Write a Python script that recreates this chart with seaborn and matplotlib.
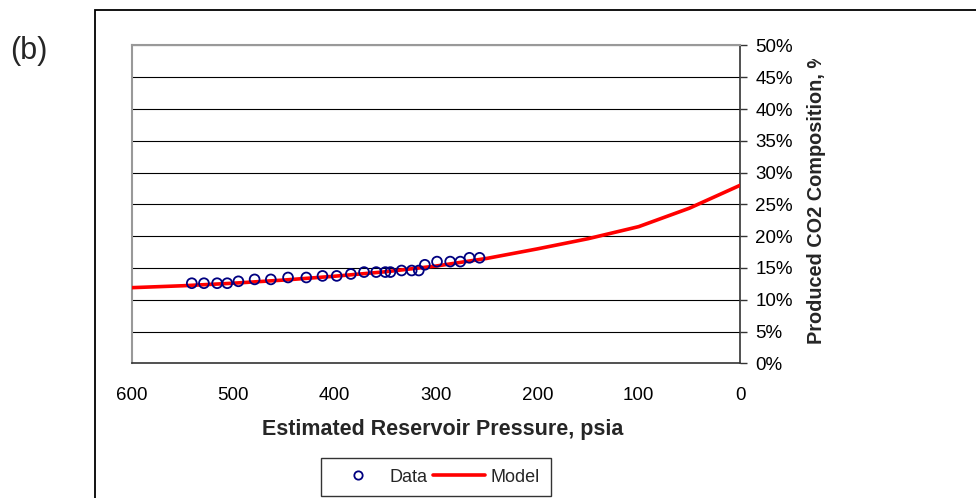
import matplotlib
matplotlib.use("Agg")
import matplotlib.pyplot as plt
import seaborn as sns
import pandas as pd
from matplotlib.lines import Line2D
from matplotlib.patches import Rectangle
from matplotlib.transforms import Bbox
from matplotlib.ticker import PercentFormatter

# Data (pressure in psia, CO2 composition in %)
data_pressure = [541, 529, 516, 506, 495, 479, 463, 446, 428, 412, 398, 384,
                 371, 359, 350, 345, 334, 324, 317, 311, 299, 286, 276, 267, 257]
data_co2 = [12.6, 12.6, 12.6, 12.6, 12.9, 13.2, 13.2, 13.5, 13.5, 13.75, 13.75, 14.05,
            14.35, 14.35, 14.35, 14.35, 14.6, 14.6, 14.6, 15.5, 16.0, 16.0, 16.0, 16.6, 16.6]

model_pressure = [600, 550, 500, 450, 400, 350, 300, 250, 200, 150, 100, 50, 0]
model_co2 = [11.9, 12.2, 12.6, 13.1, 13.7, 14.4, 15.3, 16.5, 18.0, 19.6, 21.5, 24.4, 28.0]

x_ticks = [600, 500, 400, 300, 200, 100, 0]
y_ticks = [0, 5, 10, 15, 20, 25, 30, 35, 40, 45, 50]

df_data = pd.DataFrame({"p": data_pressure, "c": data_co2})
df_model = pd.DataFrame({"p": model_pressure, "c": model_co2})

sns.set_theme(style="white")
plt.rcParams["font.family"] = ["Liberation Sans", "DejaVu Sans"]

W, H = 976, 498
fig = plt.figure(figsize=(W / 100, H / 100), dpi=100)
L, R, T, B = 132, 740, 45.5, 363.3
ax = fig.add_axes([L / W, 1 - B / H, (R - L) / W, (B - T) / H])

# outer chart frame
fig.patches.append(Rectangle((95 / W, -0.1), 1.0, 1 - 10.5 / H + 0.1, transform=fig.transFigure,
                             fill=False, edgecolor="black", linewidth=1.3, zorder=0))

for yv in y_ticks[1:]:
    ax.axhline(yv, color="black", linewidth=0.8, zorder=1)

sns.lineplot(data=df_model, x="p", y="c", ax=ax, color="#ff0000", linewidth=2.6,
             zorder=3, legend=False)
sns.scatterplot(data=df_data, x="p", y="c", ax=ax, marker="o", s=50,
                facecolors="none", edgecolor="#000080", linewidth=1.3, zorder=4, legend=False)

ax.set_xlim(600, 0)
ax.set_ylim(0, 50)
ax.set_xticks(x_ticks)
ax.set_xticklabels([str(v) for v in x_ticks])
ax.set_yticks(y_ticks)
ax.yaxis.set_major_formatter(PercentFormatter(decimals=0))
ax.yaxis.tick_right()
ax.tick_params(axis="both", direction="out", length=5, width=1, color="#333333",
               labelsize=13.5, labelcolor="black")
ax.tick_params(axis="x", pad=12)
ax.tick_params(axis="y", pad=6)
ax.set_xlabel("")
ax.set_ylabel("")

for side in ["left", "top"]:
    ax.spines[side].set_color("#999999")
    ax.spines[side].set_linewidth(1.5)
for side in ["right", "bottom"]:
    ax.spines[side].set_color("#333333")
    ax.spines[side].set_linewidth(1.2)

fig.text(443 / W, 1 - 430 / H, "Estimated Reservoir Pressure, psia", ha="center", va="center",
         fontsize=15.5, fontweight="bold")
yl = fig.text(817 / W, 1 - 344 / H, "Produced CO2 Composition, %", rotation=90,
              ha="center", va="bottom", fontsize=14.3, fontweight="bold")
yl.set_clip_on(True)
yl.set_clip_box(Bbox.from_extents(0, 0, W, H - 59))

fig.text(28.5 / W, 1 - 51 / H, "(b)", ha="center", va="center", fontsize=22)

handles = [Line2D([], [], marker="o", linestyle="none", markerfacecolor="none",
                  markeredgecolor="#000080", markeredgewidth=1.3, markersize=6),
           Line2D([], [], color="#ff0000", linewidth=2.6)]
leg = fig.legend(handles, ["Data", "Model"], ncol=2, loc="center",
                 bbox_to_anchor=(436 / W, 1 - 477 / H), frameon=True, fancybox=False,
                 edgecolor="black", fontsize=13, handlelength=2.9, columnspacing=0.3,
                 handletextpad=0.3, borderpad=0.6, borderaxespad=0)
leg.get_frame().set_linewidth(1.0)

fig.savefig("out.png", dpi=100)
